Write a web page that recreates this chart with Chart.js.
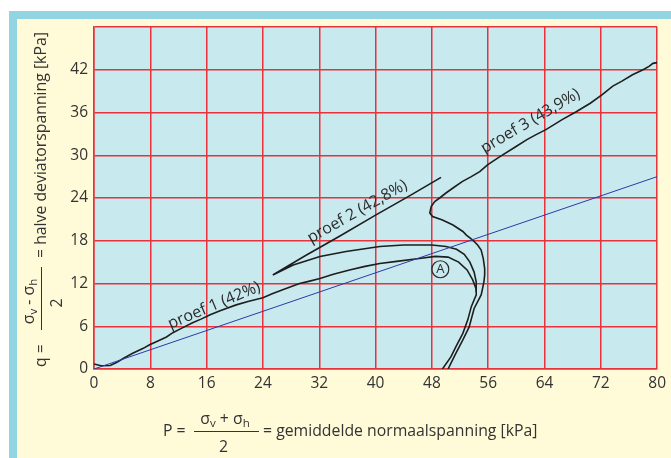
<!DOCTYPE html>
<html>
<head>
<meta charset="utf-8">
<script src="https://cdn.jsdelivr.net/npm/chart.js@4.4.1/dist/chart.umd.min.js"></script>
<style>
  html, body { margin: 0; padding: 0; background: #ffffff; }
  #wrap { width: 671px; height: 458px; }
</style>
</head>
<body>
<div id="wrap"><canvas id="c" width="671" height="458"></canvas></div>
<script>
// ---- data ----
const xTicks = [0, 8, 16, 24, 32, 40, 48, 56, 64, 72, 80];
const yTicks = [0, 6, 12, 18, 24, 30, 36, 42];

// reference straight line (blue)
const lijnX = [0, 80];
const lijnY = [0, 27];

// proef 1 (42%)
const proef1 = [[0,0.7],[1,0.45],[2.3,0.5],[3.2,0.9],[4.2,1.5],[5.5,2.2],[7,2.9],[7.9,3.4],[9,3.9],[10.3,4.5],[11.2,5.1],[12.2,5.6],[14,6.5],[15.2,7.0],[16.5,7.6],[18,8.2],[20.2,9.0],[22,9.5],[24,10.0],[25.4,10.6],[27,11.2],[29.2,12.0],[30.5,12.3],[32.1,12.7],[34,13.3],[36.3,13.9],[38.5,14.4],[40.6,14.8],[43,15.1],[46.2,15.5],[48.5,15.8],[50.3,15.7],[51.8,15.0],[53,13.9],[53.8,12.5],[54.3,11.2],[54.3,10.4],[53.6,8.75],[53.1,6.9],[52.4,5.0],[51.4,3.1],[50.7,1.7],[49.5,0]];

// proef 2 (42,8%)
const proef2 = [[49.3,26.9],[45,24.4],[40,21.6],[35,18.7],[30,15.9],[25.4,13.2],[28.3,14.6],[32.1,15.8],[35.8,16.5],[40.6,17.2],[44,17.4],[48,17.4],[50,17.2],[51.5,16.8],[52.6,16.1],[53.4,15.0],[54.0,13.6],[54.3,12.2],[54.3,10.8]];

// proef 3 (43,9%)
const proef3 = [[50.3,0],[51.4,2.2],[52.4,4.1],[53.3,5.9],[54.0,8.5],[55.0,10.4],[55.2,11.3],[55.4,12.3],[55.5,13.2],[55.5,14.1],[55.3,15.5],[55.0,16.7],[54.5,17.4],[53.8,18.1],[52.9,18.8],[52.4,19.3],[51.0,20.2],[49.5,20.9],[48.1,21.4],[47.7,21.9],[47.9,22.8],[48.4,23.5],[49.1,24.0],[50.0,24.7],[51.0,25.4],[52.3,26.3],[53.6,27.0],[54.8,27.7],[55.9,28.65],[57.5,29.7],[59.9,31.2],[61.5,32.2],[62.8,32.9],[64.2,33.6],[66.5,35.0],[68.5,36.1],[70.5,37.3],[72.2,38.5],[73.7,39.7],[75,40.4],[76.5,41.3],[78,42.0],[78.9,42.5],[79.4,42.9],[80,43.0]];

const labelTexts = ["proef 1 (42%)", "proef 2 (42,8%)", "proef 3 (43,9%)"];
const labelAnchors = [[17.3, 8.4], [37.7, 21.6], [62.3, 34.3]];
const labelAngles = [23, 29.5, 30.5];
const puntA = [49.2, 14.0];

// ---- styles ----
const FONT = '"Open Sans", "DejaVu Sans", sans-serif';
const TXT = '#333333';

const toXY = arr => arr.map(p => ({x: p[0], y: p[1]}));

function drawParts(ctx, parts, x, baseline, center) {
  const main = '15.8px ' + FONT, sub = '11.5px ' + FONT;
  let w = 0;
  for (const p of parts) { ctx.font = p[1] ? sub : main; w += ctx.measureText(p[0]).width; }
  let cx = center ? x - w / 2 : x;
  ctx.textAlign = 'left';
  ctx.textBaseline = 'alphabetic';
  for (const p of parts) {
    ctx.font = p[1] ? sub : main;
    ctx.fillText(p[0], cx, baseline + (p[1] ? 3 : 0));
    cx += ctx.measureText(p[0]).width;
  }
}

function drawTitle(ctx, lead, num, tail, barFrom, barTo, numC, denC, tailX) {
  ctx.fillStyle = TXT;
  drawParts(ctx, [[lead, false]], 0, 4.5, false);
  drawParts(ctx, num, numC, -7, true);
  drawParts(ctx, [['2', false]], denC, 21, true);
  drawParts(ctx, [[tail, false]], tailX, 4.5, false);
  ctx.strokeStyle = TXT;
  ctx.lineWidth = 1;
  ctx.beginPath();
  ctx.moveTo(barFrom, 0.5);
  ctx.lineTo(barTo, 0.5);
  ctx.stroke();
}

const decor = {
  id: 'decor',
  beforeDraw(chart) {
    const ctx = chart.ctx, a = chart.chartArea;
    ctx.save();
    ctx.fillStyle = '#ffffff';
    ctx.fillRect(0, 0, chart.width, chart.height);
    ctx.fillStyle = '#fffad8';
    ctx.fillRect(9, 11, chart.width - 9, chart.height - 11);
    ctx.fillStyle = '#93d4e2';
    ctx.fillRect(9, 11, chart.width - 9, 8);
    ctx.fillRect(9, 11, 8, chart.height - 11);
    ctx.fillStyle = '#c8e9ee';
    ctx.fillRect(a.left, a.top, a.right - a.left, a.bottom - a.top);
    ctx.restore();
  },
  afterDatasetsDraw(chart) {
    const ctx = chart.ctx, xs = chart.scales.x, ys = chart.scales.y;
    ctx.save();
    ctx.fillStyle = '#2a2a2a';
    ctx.font = '16px ' + FONT;
    ctx.textAlign = 'center';
    ctx.textBaseline = 'middle';
    labelTexts.forEach((t, i) => {
      const px = xs.getPixelForValue(labelAnchors[i][0]);
      const py = ys.getPixelForValue(labelAnchors[i][1]);
      ctx.save();
      ctx.translate(px, py);
      ctx.rotate(-labelAngles[i] * Math.PI / 180);
      ctx.fillText(t, 0, -4);
      ctx.restore();
    });
    const ax = xs.getPixelForValue(puntA[0]), ay = ys.getPixelForValue(puntA[1]);
    ctx.strokeStyle = '#2a2a2a';
    ctx.lineWidth = 1.2;
    ctx.beginPath();
    ctx.arc(ax, ay, 8.5, 0, Math.PI * 2);
    ctx.stroke();
    ctx.font = '13px ' + FONT;
    ctx.fillText('A', ax, ay + 0.5);
    ctx.restore();
  },
  afterDraw(chart) {
    const ctx = chart.ctx;
    ctx.save();
    ctx.translate(163, 431);
    drawTitle(ctx, 'P =', [['σ', false], ['v', true], [' + σ', false], ['h', true]],
      '= gemiddelde normaalspanning [kPa]', 31, 96, 62, 60.5, 100);
    ctx.restore();
    ctx.save();
    ctx.translate(41, 367);
    ctx.rotate(-Math.PI / 2);
    drawTitle(ctx, 'q =', [['σ', false], ['v', true], [' - σ', false], ['h', true]],
      '= halve deviatorspanning [kPa]', 37, 100, 65.5, 64, 109);
    ctx.restore();
  }
};

const lineDs = (data, color, width) => ({
  data, showLine: true, borderColor: color, borderWidth: width,
  pointRadius: 0, tension: 0, fill: false
});

new Chart(document.getElementById('c'), {
  type: 'scatter',
  data: {
    datasets: [
      lineDs(lijnX.map((x, i) => ({x, y: lijnY[i]})), '#2b3aa8', 1),
      lineDs(toXY(proef1), '#1e1e1e', 1.6),
      lineDs(toXY(proef2), '#1e1e1e', 1.6),
      lineDs(toXY(proef3), '#1e1e1e', 1.6)
    ]
  },
  options: {
    responsive: false,
    devicePixelRatio: 1,
    animation: false,
    layout: { padding: { top: 27, right: 13, left: 0, bottom: 0 } },
    plugins: { legend: { display: false }, tooltip: { enabled: false } },
    scales: {
      x: {
        type: 'linear', min: 0, max: 80,
        afterFit(s) { s.height = 89; },
        afterBuildTicks(s) { s.ticks = xTicks.map(v => ({value: v})); },
        grid: { color: '#e8333b', lineWidth: 1.5, drawTicks: false },
        border: { color: '#e8333b', width: 1.5 },
        ticks: { padding: 5, color: TXT, font: { family: FONT, size: 15.5 }, maxRotation: 0 }
      },
      y: {
        type: 'linear', min: 0, max: 48,
        afterFit(s) { s.width = 94; },
        afterBuildTicks(s) { s.ticks = yTicks.concat([48]).map(v => ({value: v})); },
        grid: { color: '#e8333b', lineWidth: 1.5, drawTicks: false },
        border: { color: '#e8333b', width: 1.5 },
        ticks: { padding: 6, color: TXT, font: { family: FONT, size: 15.5 },
          callback: v => (v === 48 ? '' : v) }
      }
    }
  },
  plugins: [decor]
});
</script>
</body>
</html>
